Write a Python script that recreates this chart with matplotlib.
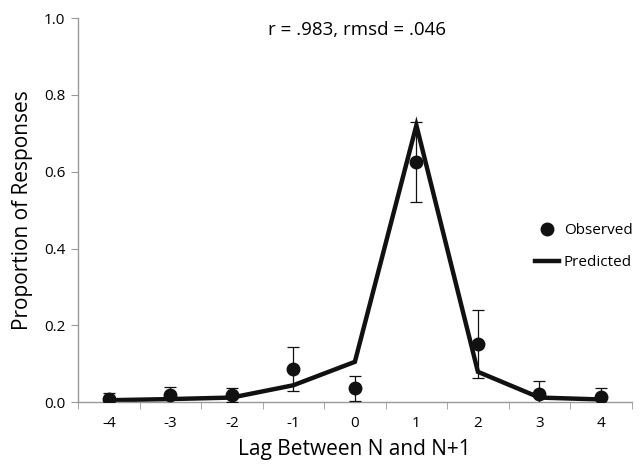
import matplotlib.pyplot as plt
from matplotlib.lines import Line2D
import numpy as np

# lag values and response proportions
lags = [-4, -3, -2, -1, 0, 1, 2, 3, 4]
observed = [0.007, 0.018, 0.018, 0.086, 0.036, 0.626, 0.151, 0.022, 0.014]
obs_err = [0.017, 0.022, 0.018, 0.057, 0.032, 0.104, 0.088, 0.033, 0.024]
predicted = [0.005, 0.008, 0.012, 0.044, 0.105, 0.721, 0.079, 0.012, 0.007]
fit_text = 'r = .983, rmsd = .046'

plt.rcParams['font.family'] = ['Open Sans', 'DejaVu Sans']

fig = plt.figure(figsize=(6.42, 4.66), dpi=100)
ax = fig.add_axes([0.1215, 0.137, 0.8625, 0.824])

x = np.array(lags)
ax.plot(x, predicted, color='#111111', lw=3.2, solid_joinstyle='miter', zorder=2)
ax.errorbar(x, observed, yerr=obs_err, fmt='o', color='#111111', ms=9,
            ecolor='#111111', elinewidth=0.9, capsize=4, capthick=0.9, zorder=3)

ax.set_xlim(-4.5, 4.5)
ax.set_ylim(0, 1.0)
ax.set_xticks(lags)
ax.set_xticklabels([str(v) for v in lags])
ax.set_xticks(np.arange(-4.5, 4.6, 1), minor=True)
ax.set_yticks(np.arange(0, 1.01, 0.2))
ax.set_yticklabels(['%.1f' % v for v in np.arange(0, 1.01, 0.2)])
ax.tick_params(axis='x', which='major', length=0, labelsize=11, pad=10)
ax.tick_params(axis='x', which='minor', length=5, color='#999999', direction='out')
ax.tick_params(axis='y', length=5, color='#999999', direction='out', labelsize=11, pad=4)

for s in ['top', 'right']:
    ax.spines[s].set_visible(False)
for s in ['left', 'bottom']:
    ax.spines[s].set_color('#999999')
    ax.spines[s].set_linewidth(1.0)

ax.set_xlabel('Lag Between N and N+1', fontsize=15, labelpad=6)
ax.set_ylabel('Proportion of Responses', fontsize=15, labelpad=8)
ax.text(0.03, 0.969, fit_text, fontsize=13.5, ha='center', va='center')

handles = [Line2D([], [], ls='none', marker='o', color='#111111', ms=9),
           Line2D([], [], color='#111111', lw=3.2)]
ax.legend(handles, ['Observed', 'Predicted'], loc='center left',
          bbox_to_anchor=(0.8, 0.405), frameon=False, fontsize=11,
          handlelength=1.6, handletextpad=0.3, labelspacing=1.1)

plt.savefig('out.png', dpi=100)
